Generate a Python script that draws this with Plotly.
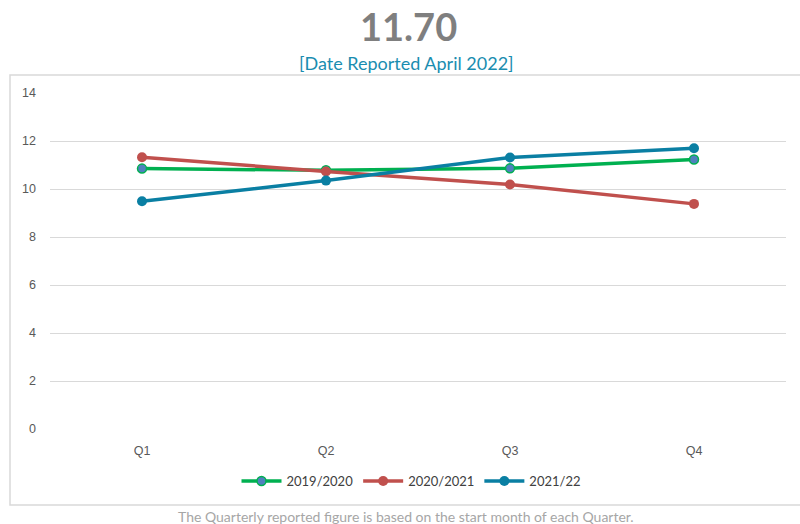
import plotly.graph_objects as go

quarters = ["Q1", "Q2", "Q3", "Q4"]
s2019_2020 = [10.85, 10.78, 10.86, 11.23]
s2020_2021 = [11.32, 10.73, 10.19, 9.38]
s2021_22 = [9.49, 10.35, 11.31, 11.70]

headline = "11.70"
subtitle = "[Date Reported April 2022]"
footnote = "The Quarterly reported figure is based on the start month of each Quarter."

fig = go.Figure()
fig.add_trace(go.Scatter(
    x=quarters, y=s2019_2020, name="2019/2020", mode="lines+markers",
    line=dict(color="#00B050", width=3.5),
    marker=dict(size=9, color="#4F81BD", line=dict(color="#00B050", width=1.5)),
))
fig.add_trace(go.Scatter(
    x=quarters, y=s2020_2021, name="2020/2021", mode="lines+markers",
    line=dict(color="#C0504D", width=3.5),
    marker=dict(size=10, color="#C0504D"),
))
fig.add_trace(go.Scatter(
    x=quarters, y=s2021_22, name="2021/22", mode="lines+markers",
    line=dict(color="#0A7FA3", width=3.5),
    marker=dict(size=10, color="#0A7FA3"),
))

plot_l, plot_r, plot_t, plot_b = 50, 786, 93, 429
pw, ph = plot_r - plot_l, plot_b - plot_t

def px(x):
    return (x - plot_l) / pw

def py(y):
    return (plot_b - y) / ph

fig.add_shape(type="rect", xref="paper", yref="paper",
              x0=px(10), x1=px(803), y0=py(505), y1=py(75),
              line=dict(color="#D9D9D9", width=1.5), fillcolor="rgba(0,0,0,0)", layer="below")

fig.add_annotation(text=f"<b>{headline}</b>", xref="paper", yref="paper",
                   x=px(408), y=py(26), showarrow=False, yanchor="middle",
                   font=dict(size=38, color="#7F7F7F", family="Lato"))
fig.add_annotation(text=subtitle, xref="paper", yref="paper",
                   x=px(406), y=py(63), showarrow=False, yanchor="middle",
                   font=dict(size=18, color="#1A8DB0", family="Lato"))
fig.add_annotation(text=footnote, xref="paper", yref="paper",
                   x=px(406), y=py(516), showarrow=False, yanchor="middle",
                   font=dict(size=14, color="#A6A6A6", family="Lato"))

fig.update_layout(
    width=800, height=524,
    margin=dict(l=plot_l, r=800 - plot_r, t=plot_t, b=524 - plot_b),
    paper_bgcolor="white", plot_bgcolor="white",
    font=dict(family="Liberation Sans", color="#595959", size=12),
    showlegend=True,
    legend=dict(orientation="h", x=px(411), xanchor="center", y=py(481), yanchor="middle",
                font=dict(size=13, color="#404040", family="Lato"), itemwidth=40),
    xaxis=dict(range=[-0.5, 3.5], showgrid=False, zeroline=False, showline=False,
               ticks="", ticklabelstandoff=12,
               tickfont=dict(size=12.5, color="#595959", family="Liberation Sans")),
    yaxis=dict(range=[0, 14], dtick=2, showgrid=True, gridcolor="#D9D9D9", gridwidth=1,
               zeroline=False, showline=False, ticks="", ticklabelstandoff=13,
               tickfont=dict(size=12.5, color="#595959", family="Liberation Sans")),
)

fig.write_html("out.html")
